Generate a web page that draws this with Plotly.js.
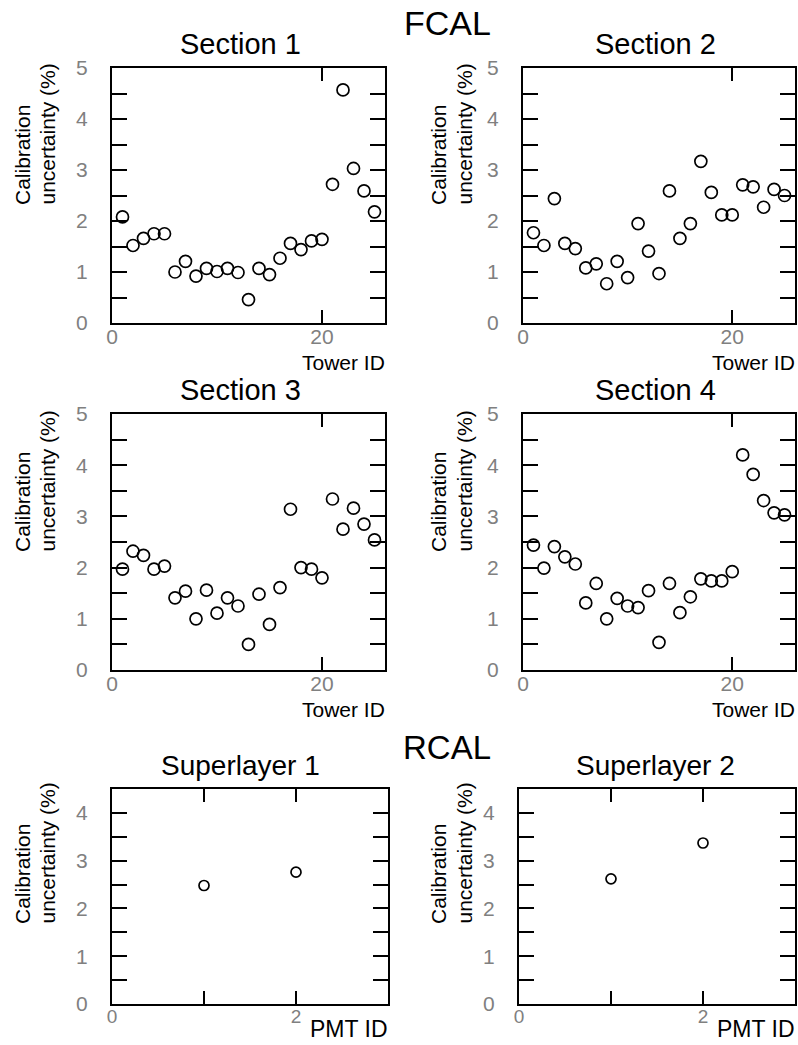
<!DOCTYPE html>
<html>
<head>
<meta charset="utf-8">
<script src="https://cdn.plot.ly/plotly-3.0.1.min.js"></script>
<style>html,body{margin:0;padding:0;background:#fff;}#chart{width:798px;height:1045px;}</style>
</head>
<body>
<div id="chart"></div>
<script>
// ---- data ----
const towerId = [1,2,3,4,5,6,7,8,9,10,11,12,13,14,15,16,17,18,19,20,21,22,23,24,25];
const section1 = [2.08,1.52,1.66,1.75,1.75,1.00,1.21,0.92,1.07,1.01,1.07,0.99,0.46,1.07,0.95,1.27,1.56,1.44,1.61,1.64,2.72,4.57,3.03,2.59,2.18];
const section2 = [1.77,1.52,2.44,1.56,1.46,1.08,1.16,0.77,1.21,0.89,1.95,1.41,0.97,2.59,1.66,1.95,3.17,2.56,2.12,2.12,2.71,2.67,2.27,2.62,2.50];
const section3 = [1.97,2.32,2.24,1.97,2.03,1.41,1.54,1.00,1.56,1.11,1.41,1.25,0.50,1.48,0.89,1.61,3.14,2.00,1.97,1.80,3.34,2.75,3.16,2.85,2.54];
const section4 = [2.44,1.99,2.41,2.21,2.07,1.31,1.69,1.00,1.40,1.25,1.22,1.55,0.54,1.69,1.12,1.43,1.78,1.74,1.74,1.92,4.20,3.82,3.31,3.07,3.03];
const pmtId = [1,2];
const superlayer1 = [2.48,2.76];
const superlayer2 = [2.62,3.37];

const panelTitles = ["Section 1","Section 2","Section 3","Section 4","Superlayer 1","Superlayer 2"];
const groupTitles = ["FCAL","RCAL"];
const towerTicks = [0,20];
const towerTickText = ["0","20"];
const pmtTicks = [0,1,2,3];
const pmtTickText = ["0","","2",""];
const secYTicks = [0,0.5,1,1.5,2,2.5,3,3.5,4,4.5,5];
const secYText = ["0","","1","","2","","3","","4","","5"];
const slYTicks = [0,0.5,1,1.5,2,2.5,3,3.5,4];
const slYText = ["0","","1","","2","","3","","4"];

// ---- layout helpers ----
const W = 798, H = 1045;
const fx = p => p / W;
const fy = p => 1 - p / H;

// panel boxes in pixels [x0,x1,y0(top),y1(bottom)]
const boxes = [
  [112,385,68,323],
  [523,795,68,323],
  [112,385,414,670],
  [523,795,414,670],
  [112,388,789,1004],
  [519,795,789,1004]
];

const tickFont = {family:"Liberation Sans, Arial, sans-serif", size:21, color:"#808080"};
const txtFont = {family:"Liberation Sans, Arial, sans-serif", color:"#000"};

const ys = [section1, section2, section3, section4, superlayer1, superlayer2];
const xs = [towerId, towerId, towerId, towerId, pmtId, pmtId];

const data = [];
const layout = {
  width: W, height: H,
  margin: {l:0, r:0, t:0, b:0},
  paper_bgcolor: "#fff",
  plot_bgcolor: "#fff",
  showlegend: false,
  annotations: []
};

for (let i = 0; i < 6; i++) {
  const n = i === 0 ? "" : String(i + 1);
  const isSL = i >= 4;
  data.push({
    type: "scatter", mode: "markers",
    x: xs[i], y: ys[i],
    xaxis: "x" + n, yaxis: "y" + n,
    marker: {symbol: "circle-open", size: isSL ? 10 : 12, color: "#000", line: {width: 1.7, color: "#000"}},
    hoverinfo: "skip"
  });
  const b = boxes[i];
  layout["xaxis" + n] = {
    domain: [fx(b[0]), fx(b[1])],
    anchor: "y" + n,
    range: isSL ? [0, 3] : [0, 26],
    tickmode: "array",
    tickvals: isSL ? pmtTicks : towerTicks,
    ticktext: isSL ? pmtTickText : towerTickText,
    ticks: "inside", ticklen: 13, tickwidth: 1.5, tickcolor: "#000",
    showline: true, linewidth: 2, linecolor: "#000", mirror: "ticks",
    showgrid: false, zeroline: false,
    tickfont: isSL ? Object.assign({}, tickFont, {size: 19}) : tickFont,
    ticklabelstandoff: -6,
    fixedrange: true
  };
  layout["yaxis" + n] = {
    domain: [fy(b[3]), fy(b[2])],
    anchor: "x" + n,
    range: isSL ? [0, 4.5] : [0, 5],
    tickmode: "array",
    tickvals: isSL ? slYTicks : secYTicks,
    ticktext: isSL ? slYText : secYText,
    ticks: "inside", ticklen: 15, tickwidth: 2, tickcolor: "#000",
    showline: true, linewidth: 2, linecolor: "#000", mirror: "ticks",
    showgrid: false, zeroline: false,
    tickfont: tickFont,
    ticklabelstandoff: 18,
    fixedrange: true
  };

  // panel title
  const titleX = i % 2 === 0 ? 240 : 655;
  const titleY = b[2] - 24;
  layout.annotations.push({
    xref: "paper", yref: "paper", x: fx(titleX), y: fy(titleY),
    xanchor: "center", yanchor: "middle", showarrow: false,
    text: panelTitles[i], font: Object.assign({size: isSL ? 28 : 29}, txtFont)
  });

  // y-axis title (two lines, rotated, bottom aligned)
  const yBottom = isSL ? 926 : b[3] - 116;
  const c1 = i % 2 === 0 ? 22 : 438;
  const c2 = i % 2 === 0 ? 47 : 464;
  layout.annotations.push({
    xref: "paper", yref: "paper", x: fx(c1), y: fy(yBottom),
    xanchor: "center", yanchor: "bottom", showarrow: false, textangle: -90,
    text: "Calibration", font: Object.assign({size: 21}, txtFont)
  });
  layout.annotations.push({
    xref: "paper", yref: "paper", x: fx(c2), y: fy(yBottom),
    xanchor: "center", yanchor: "bottom", showarrow: false, textangle: -90,
    text: "uncertainty (%)", font: Object.assign({size: 21}, txtFont)
  });

  // x-axis title (bottom right)
  layout.annotations.push({
    xref: "paper", yref: "paper", x: fx(b[1] + 2), y: fy(isSL ? 1029 : b[3] + 39),
    xanchor: "right", yanchor: "middle", showarrow: false,
    text: isSL ? "PMT ID" : "Tower ID", font: Object.assign({size: isSL ? 23 : 21}, txtFont)
  });
}

// group titles
layout.annotations.push({
  xref: "paper", yref: "paper", x: fx(447), y: fy(23),
  xanchor: "center", yanchor: "middle", showarrow: false,
  text: groupTitles[0], font: Object.assign({size: 34}, txtFont)
});
layout.annotations.push({
  xref: "paper", yref: "paper", x: fx(447), y: fy(747),
  xanchor: "center", yanchor: "middle", showarrow: false,
  text: groupTitles[1], font: Object.assign({size: 33}, txtFont)
});

Plotly.newPlot("chart", data, layout, {displayModeBar: false, staticPlot: true});
</script>
</body>
</html>
